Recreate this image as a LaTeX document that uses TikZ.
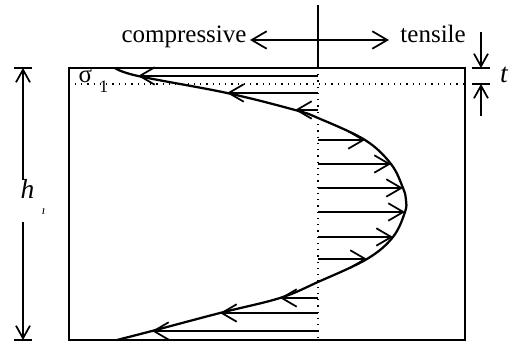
\documentclass[tikz,border=0pt]{standalone}
\usepackage{fontspec}
\setmainfont{Liberation Serif}
\usetikzlibrary{arrows.meta}
\begin{document}
\begin{tikzpicture}[x=0.4pt,y=-0.4pt,
  barb/.style={-{Straight Barb[length=6pt,width=7pt,line width=0.7pt]}, line width=0.7pt},
  dimarr/.style={-{Straight Barb[length=5pt,width=5.6pt,line width=0.7pt]}, line width=0.7pt},
  lbl/.style={inner sep=0pt, font=\fontsize{10}{12}\selectfont},
  frame/.style={line width=0.6pt},
  stressarr/.style={barb},
  curve/.style={line width=0.9pt}]
\useasboundingbox (0,0) rectangle (509,344);
% specimen box
\draw[frame] (69,68) rectangle (465,340);
% top layer dotted line
\coordinate (dl) at (75,84);
\coordinate (dr) at (465,84);
\draw[dotted, line width=0.5pt] (dl) -- (dr);
% centre line
\coordinate (ctop) at (318,5);
\coordinate (cbox) at (318,68);
\coordinate (cbot) at (318,340);
\draw[line width=0.6pt] (ctop) -- (cbox);
\draw[dotted, line width=0.5pt] (cbox) -- (cbot);
% compressive / tensile
\node[lbl, anchor=base east] (comp) at (247,43) {compressive};
\node[lbl, anchor=base west] (tens) at (400,43) {tensile};
\coordinate (al) at (250,40);
\coordinate (ar) at (389,40);
\draw[barb] (318,40) -- (al);
\draw[barb] (318,40) -- (ar);
% curve points
\coordinate (p0) at (115,68);
\coordinate (c1) at (138,76);
\coordinate (c2) at (227,93);
\coordinate (c3) at (295,110);
\coordinate (x1) at (318,118);
\coordinate (t1) at (365,140);
\coordinate (t2) at (391,164);
\coordinate (t3) at (403,188);
\coordinate (t4) at (405,212);
\coordinate (t5) at (393,237);
\coordinate (t6) at (367,259);
\coordinate (x2) at (318,282);
\coordinate (c4) at (280,298);
\coordinate (c5) at (220,313);
\coordinate (c6) at (152,331);
\coordinate (p1) at (117,340);
\draw[curve] plot[smooth, tension=0.6] coordinates {(p0) (c1) (c2) (c3) (x1) (t1) (t2) (t3) (406,200) (t4) (t5) (t6) (x2) (c4) (c5) (c6) (p1)};
% stress arrows
\foreach \p in {c1,c2,c3,t1,t2,t3,t4,t5,t6,c4,c5,c6}{
  \draw[stressarr] (318,0 |- \p) -- (\p);
}
% sigma label
\node[lbl, anchor=base west] (sig) at (78,83) {σ\raisebox{-0.8ex}{\hspace{3pt}\scriptsize 1}};
% left dimension h
\coordinate (htop) at (23,68);
\coordinate (hbot) at (23,340);
\coordinate (hg1) at (23,180);
\coordinate (hg2) at (23,222);
\draw[line width=0.7pt] (14,68) -- (32,68);
\draw[line width=0.7pt] (14,340) -- (32,340);
\draw[dimarr] (hg1) -- (htop);
\draw[dimarr] (hg2) -- (hbot);
\node[lbl, font=\fontsize{11}{12}\selectfont] (h) at (33,197) {\textit{h}\raisebox{-1.2ex}{\hspace{3pt}\tiny\textit{ı}}};
% right dimension t
\coordinate (ttop) at (481,68);
\coordinate (tbot) at (481,84);
\draw[line width=0.7pt] (472,68) -- (490,68);
\draw[line width=0.7pt] (472,84) -- (490,84);
\draw[dimarr] (481,32) -- (ttop);
\draw[dimarr] (481,116) -- (tbot);
\node[lbl, font=\fontsize{11}{12}\selectfont\itshape] (t) at (504,75) {t};
\end{tikzpicture}
\end{document}
